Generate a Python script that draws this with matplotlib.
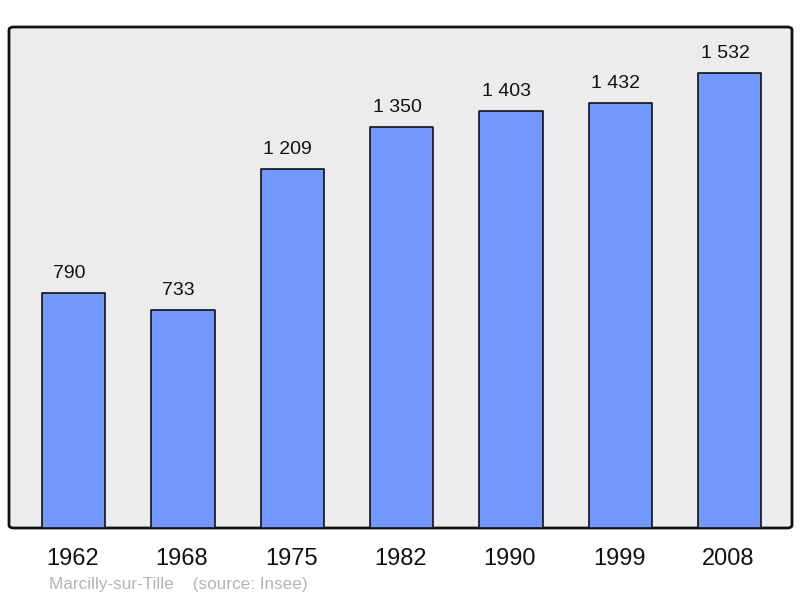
import matplotlib.pyplot as plt
from matplotlib.patches import FancyBboxPatch

years = ["1962", "1968", "1975", "1982", "1990", "1999", "2008"]
population = [790, 733, 1209, 1350, 1403, 1432, 1532]
value_labels = ["790", "733", "1 209", "1 350", "1 403", "1 432", "1 532"]
caption = "Marcilly-sur-Tille    (source: Insee)"

plt.rcParams['font.family'] = ['Liberation Sans', 'DejaVu Sans']

fig = plt.figure(figsize=(8, 5.98), dpi=100)
fig.patch.set_facecolor('white')
ax = fig.add_axes([9/800, 1 - 528/598, 783/800, 501/598])
ax.set_xlim(-0.59, 6.57)
ax.set_ylim(0, 1687)
ax.axis('off')

# background frame with rounded corners
frame = FancyBboxPatch((0, 0), 1, 1, boxstyle="round,pad=0,rounding_size=0.006",
                       transform=ax.transAxes, facecolor='#ececec', edgecolor='#111111',
                       linewidth=2, zorder=0, clip_on=False)
ax.add_patch(frame)

x = range(len(years))
bars = ax.bar(x, population, width=0.58, color='#7298ff', edgecolor='#111111',
              linewidth=1.2, zorder=2)
for b in bars:
    b.set_joinstyle('round')

for xi, v, lab in zip(x, population, value_labels):
    ax.text(xi - 0.04, v + 66, lab, ha='center', va='center', fontsize=14, color='#111111')

for xi, yr in zip(x, years):
    ax.text(xi - 0.01, -103, yr, ha='center', va='center', fontsize=17, color='#111111')

fig.text(49/800, 1 - 584/598, caption, ha='left', va='center', fontsize=12.3, color='#b4b4b4')

fig.savefig('out.png', dpi=100)
